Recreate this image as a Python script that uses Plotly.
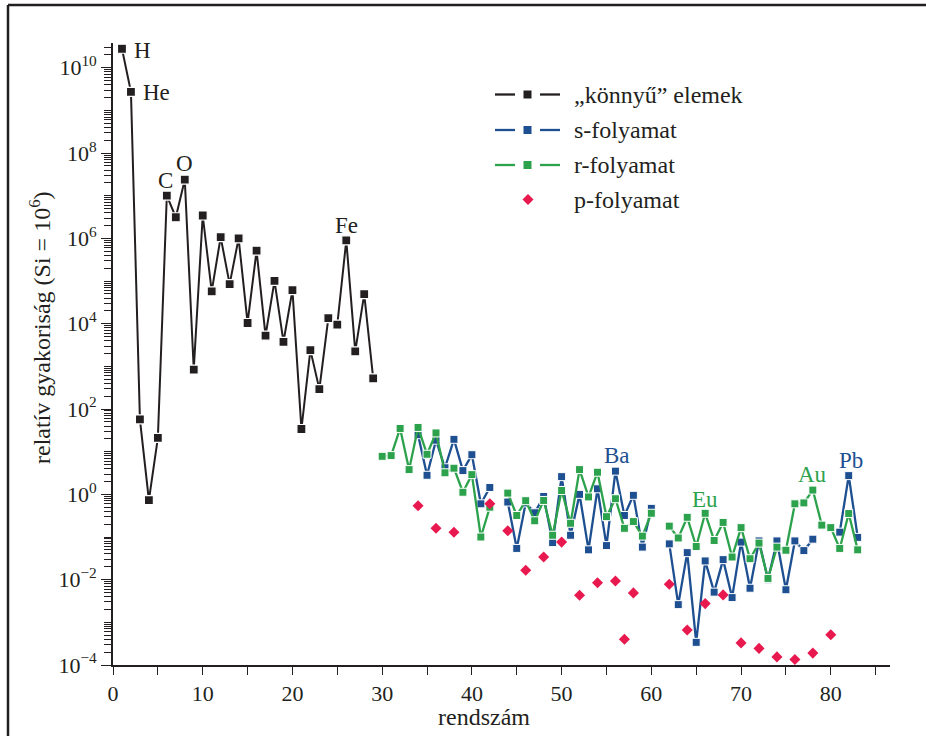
import math
import plotly.graph_objects as go

# ---- data: relative solar abundances (Si = 1e6) vs. atomic number ----
light_z = list(range(1, 30))
light_abund = [2.79e10, 2.72e9, 57, 0.73, 21, 1.01e7, 3.13e6, 2.38e7, 843, 3.44e6,
               5.74e4, 1.07e6, 8.49e4, 1.0e6, 1.04e4, 5.15e5, 5240, 1.01e5, 3770, 6.11e4,
               34, 2400, 293, 1.35e4, 9550, 9.0e5, 2250, 4.93e4, 522]

heavy_z = list(range(30, 84))
s_abund = [None, None, None, None,
           25, 2.8, 18.6, 4.2, 19.5, 3.6, 8.5, 0.60, 1.45, None,
           0.66, 0.054, 0.63, 0.37, 0.89, 0.074, 0.26e1, 0.11, 1.0, 0.050,
           1.35, 0.063, 3.5, 0.32, 0.95, 0.058, 0.47, None,
           0.069, 0.0026, 0.043, 0.00034, 0.0275, 0.0051, 0.0295, 0.0038, 0.076,
           0.0063, 0.081, 0.010, 0.081, 0.0058, 0.081, 0.048, 0.089, None, None,
           0.13, 2.75, 0.098]
r_abund = [7.8, 8.1, 35, 3.8, 37, 8.7, 27.5, 3.2, 4.1, 1.12, 2.9, 0.10, 0.50, None,
           1.07, 0.32, 0.71, 0.24, 0.72, 0.11, 1.23, 0.21, 3.8, 0.87, 3.3, 0.30,
           0.79, 0.16, 0.23, 0.105, 0.36, None,
           0.18, 0.095, 0.29, 0.060, 0.36, 0.083, 0.22, 0.034, 0.166, 0.031,
           0.072, 0.0107, 0.058, 0.049, 0.60, 0.63, 1.26, 0.19, 0.166, 0.054,
           0.355, 0.050]

p_z = [34, 36, 38, 42, 44, 46, 48, 50, 52, 54, 56, 57, 58,
       62, 64, 66, 68, 70, 72, 74, 76, 78, 80]
p_abund = [0.54, 0.16, 0.13, 0.60, 0.14, 0.0166, 0.034, 0.076, 0.0043, 0.0085,
           0.0093, 0.0004, 0.0049, 0.0078, 0.00066, 0.00275, 0.0044, 0.00033,
           0.000245, 0.000155, 0.000135, 0.00019, 0.00051]

series_names = ["\u201ek\u00f6nny\u0171\u201d elemek", "s-folyamat", "r-folyamat", "p-folyamat"]

# ---- styling ----
INK = "#231f20"
BLUE = "#1d4f91"
GREEN = "#2ca24c"
RED = "#e8194f"
FONT = "Liberation Serif"

W, H = 926, 736
ML, MR, MT, MB = 113, 36, 43, 71
PW, PH = W - ML - MR, H - MT - MB


def px(xp):
    return (xp - ML) / PW


def py(yp):
    return (H - MB - yp) / PH


fig = go.Figure()

fig.add_trace(go.Scatter(
    x=heavy_z, y=s_abund, mode="lines+markers", name=series_names[1],
    line=dict(color=BLUE, width=2.3),
    marker=dict(symbol="square", size=8, color=BLUE, line=dict(color="white", width=1)),
    connectgaps=False, showlegend=False))

fig.add_trace(go.Scatter(
    x=heavy_z, y=r_abund, mode="lines+markers", name=series_names[2],
    line=dict(color=GREEN, width=2.3),
    marker=dict(symbol="square", size=8, color=GREEN, line=dict(color="white", width=1)),
    connectgaps=False, showlegend=False))

fig.add_trace(go.Scatter(
    x=p_z, y=p_abund, mode="markers", name=series_names[3],
    marker=dict(symbol="diamond", size=8.5, color=RED, line=dict(width=0)),
    showlegend=False))

fig.add_trace(go.Scatter(
    x=light_z, y=light_abund, mode="lines+markers", name=series_names[0],
    line=dict(color=INK, width=2),
    marker=dict(symbol="square", size=9, color=INK, line=dict(color="white", width=1.2)),
    showlegend=False))

# ---- element labels, anchored to their data points ----
def value_at(zs, vals, z):
    return vals[zs.index(z)]


labels = [
    ("H", light_z, light_abund, 1, INK, "left", 10, -2),
    ("He", light_z, light_abund, 2, INK, "left", 10, -1),
    ("C", light_z, light_abund, 6, INK, "center", -1, 15),
    ("O", light_z, light_abund, 8, INK, "center", 0, 16),
    ("Fe", light_z, light_abund, 26, INK, "center", 0, 15),
    ("Ba", heavy_z, s_abund, 56, BLUE, "center", 2, 16),
    ("Eu", heavy_z, r_abund, 66, GREEN, "center", 0, 14),
    ("Au", heavy_z, r_abund, 78, GREEN, "center", 0, 16),
    ("Pb", heavy_z, s_abund, 82, BLUE, "center", 2, 15),
]
for text, zs, vals, z, col, xa, dx, dy in labels:
    fig.add_annotation(
        x=z, y=math.log10(value_at(zs, vals, z)), xref="x", yref="y",
        text=text, showarrow=False, xanchor=xa, yanchor="middle",
        xshift=dx, yshift=dy, font=dict(family=FONT, size=23, color=col))

# ---- hand-drawn legend box contents ----
legend_rows = [94.5, 130, 165, 199.5]
legend_colors = [INK, BLUE, GREEN]
for row_y, col in zip(legend_rows[:3], legend_colors):
    for x0, x1 in [(495, 515), (540, 560)]:
        fig.add_shape(type="line", xref="paper", yref="paper",
                      x0=px(x0), x1=px(x1), y0=py(row_y), y1=py(row_y),
                      line=dict(color=col, width=2.3))
    fig.add_shape(type="rect", xref="paper", yref="paper",
                  x0=px(523.5), x1=px(531.5), y0=py(row_y + 4), y1=py(row_y - 4),
                  line=dict(width=0), fillcolor=col)
cx, cy = 528, legend_rows[3]
fig.add_shape(type="path", xref="paper", yref="paper",
              path=(f"M {px(cx - 5.5)} {py(cy)} L {px(cx)} {py(cy - 5.5)} "
                    f"L {px(cx + 5.5)} {py(cy)} L {px(cx)} {py(cy + 5.5)} Z"),
              line=dict(width=0), fillcolor=RED)
for row_y, name in zip(legend_rows, series_names):
    fig.add_annotation(x=px(572), y=py(row_y), xref="paper", yref="paper",
                       text=name, showarrow=False, xanchor="left", yanchor="middle",
                       font=dict(family=FONT, size=24, color=INK))

# ---- outer frame (left and top edges) ----
fig.add_shape(type="line", xref="paper", yref="paper",
              x0=px(8), x1=px(8), y0=py(5), y1=py(740), line=dict(color=INK, width=2.5))
fig.add_shape(type="line", xref="paper", yref="paper",
              x0=px(8), x1=px(930), y0=py(5), y1=py(5), line=dict(color=INK, width=2.5))

# ---- axis titles ----
fig.add_annotation(x=px(484), y=py(717), xref="paper", yref="paper",
                   text="rendsz\u00e1m", showarrow=False, xanchor="center", yanchor="middle",
                   font=dict(family=FONT, size=24, color=INK))
fig.add_annotation(x=px(40), y=py(328), xref="paper", yref="paper",
                   text="relat\u00edv gyakoris\u00e1g (Si = 10<sup>6</sup>)", textangle=-90,
                   showarrow=False, xanchor="center", yanchor="middle",
                   font=dict(family=FONT, size=24, color=INK))

# ---- axes ----
x_major = list(range(0, 90, 10))
y_exps = list(range(-4, 11, 2))
y_major = [10.0 ** e for e in y_exps]
y_text = [f"10<sup>{e}</sup>" if e >= 0 else f"10<sup>\u2212{-e}</sup>" for e in y_exps]
y_minor = [m * 10.0 ** e for e in range(-4, 11) for m in range(1, 10)
           if not (m == 1 and e % 2 == 0) and m * 10.0 ** e <= 3.5e10]

fig.update_xaxes(
    range=[0, 86.6], showline=True, linecolor=INK, linewidth=1.6,
    tickmode="array", tickvals=x_major, ticks="outside", ticklen=8, tickwidth=1.4,
    tickcolor=INK, showgrid=False, zeroline=False,
    tickfont=dict(family=FONT, size=22, color=INK),
    minor=dict(tickmode="array", tickvals=[v + 5 for v in x_major],
               ticks="outside", ticklen=8, tickwidth=1.4, tickcolor=INK, showgrid=False))
fig.update_yaxes(
    type="log", range=[-4, 10.58], showline=True, linecolor=INK, linewidth=1.6,
    tickmode="array", tickvals=y_major, ticktext=y_text, ticks="outside", ticklen=10,
    tickwidth=1.4, tickcolor=INK, showgrid=False, zeroline=False,
    tickfont=dict(family=FONT, size=22, color=INK),
    minor=dict(tickmode="array", tickvals=y_minor, ticks="outside", ticklen=7,
               tickwidth=1, tickcolor=INK, showgrid=False))

fig.update_layout(
    width=W, height=H, margin=dict(l=ML, r=MR, t=MT, b=MB),
    paper_bgcolor="white", plot_bgcolor="white", showlegend=False,
    font=dict(family=FONT, color=INK))

fig.write_html("out.html")
